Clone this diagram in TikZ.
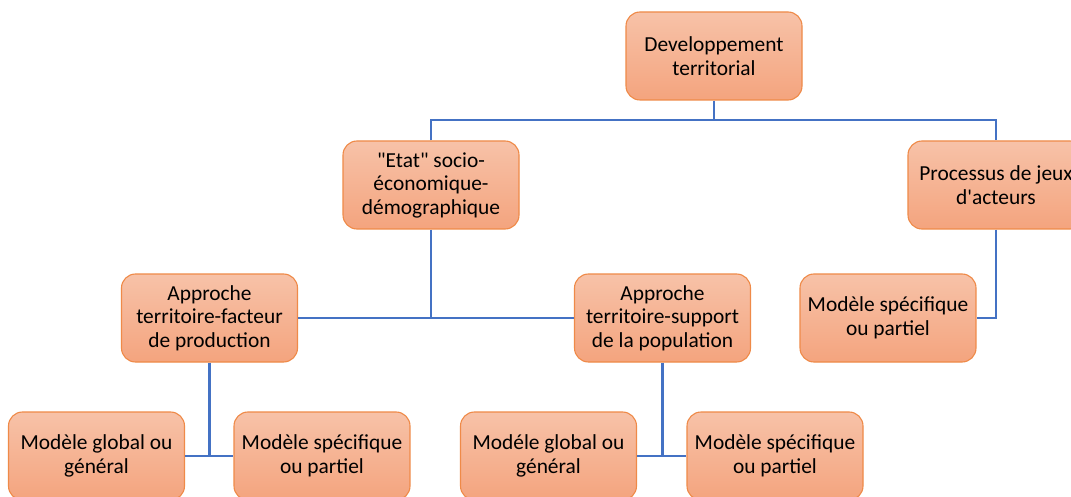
\documentclass[tikz,border=0pt]{standalone}
\usepackage{fontspec}
\setmainfont{Carlito}
\definecolor{boxtop}{HTML}{F7C2A8}
\definecolor{boxbot}{HTML}{F4A47E}
\definecolor{boxline}{HTML}{EF8A48}
\definecolor{conn}{HTML}{4472C4}
\begin{document}
\begin{tikzpicture}[x=1pt,y=-1pt,
  box/.style={draw=boxline, line width=1.1pt, rounded corners=14pt,
    top color=boxtop, bottom color=boxbot, minimum width=176pt, minimum height=88pt,
    align=center, inner sep=2pt, font=\fontsize{21.4}{23.5}\selectfont, text=black},
  link/.style={draw=conn, line width=2.8pt}]
\path[use as bounding box, clip] (0,0) rectangle (1071,497);
\fill[white] (0,0) rectangle (1071,497);
\node[box] (top) at (714,56) {Developpement\\territorial};
\node[box] (etat) at (431,185) {\textquotedbl Etat\textquotedbl{} socio-\\économique-\\démographique};
\node[box] (proc) at (996,185) {Processus de jeux\\d\textquotesingle acteurs};
\node[box] (appF) at (209.5,318) {Approche\\territoire-facteur\\de production};
\node[box] (appS) at (662.5,318) {Approche\\territoire-support\\de la population};
\node[box] (modR) at (888,318) {Modèle spécifique\\ou partiel};
\node[box] (mg1) at (96.5,456) {Modèle global ou\\général};
\node[box] (ms1) at (322,456) {Modèle spécifique\\ou partiel};
\node[box] (mg2) at (548.5,456) {Modéle global ou\\général};
\node[box] (ms2) at (775,456) {Modèle spécifique\\ou partiel};
\coordinate (bus1) at (714,120);
\draw[link] (top.south) -- (bus1);
\draw[link] (etat.north) |- (bus1) -| (proc.north);
\draw[link] (etat.south) -- (etat.south |- appF.east);
\draw[link] (appF.east) -- (appS.west);
\draw[link] (proc.south) |- (modR.east);
\draw[link] (appF.south) -- (appF.south |- mg1.east);
\draw[link] (mg1.east) -- (ms1.west);
\draw[link] (appS.south) -- (appS.south |- mg2.east);
\draw[link] (mg2.east) -- (ms2.west);
\end{tikzpicture}
\end{document}
